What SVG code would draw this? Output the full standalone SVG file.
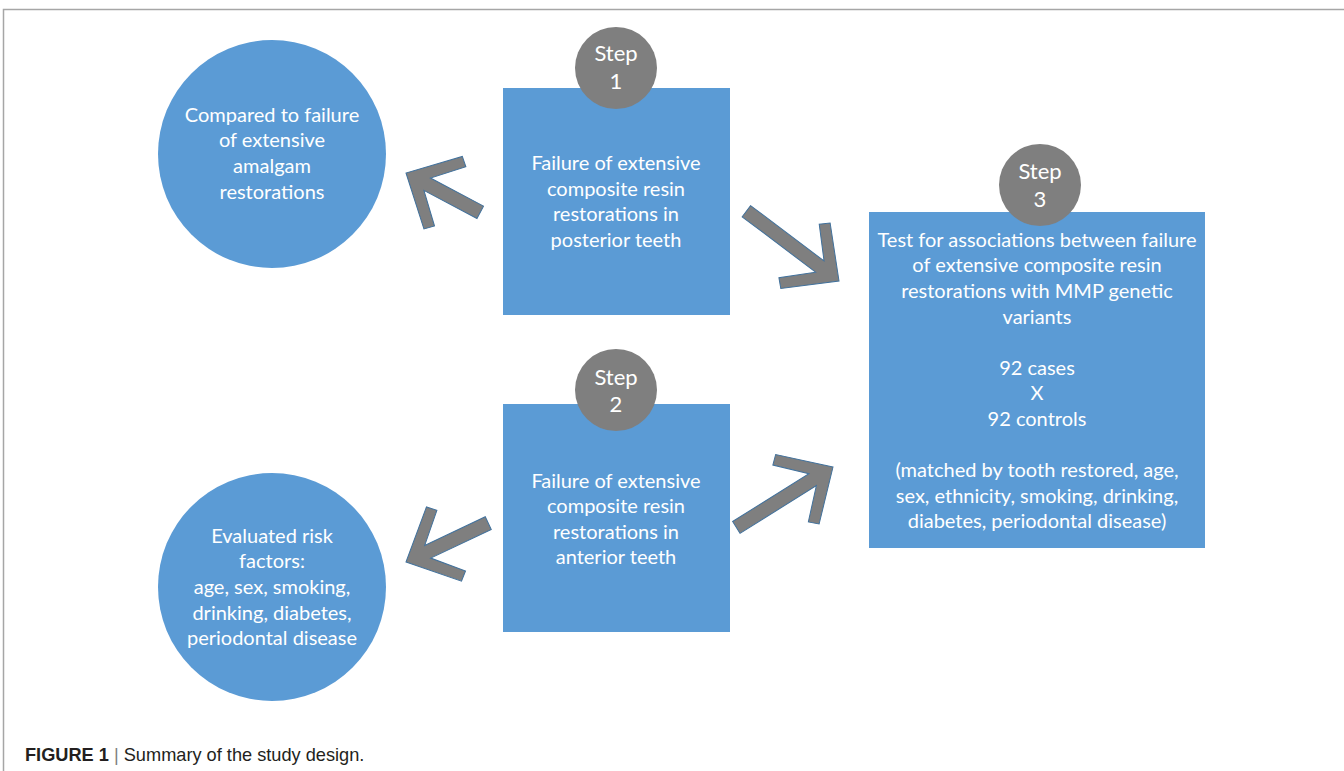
<svg xmlns="http://www.w3.org/2000/svg" width="1344" height="771" viewBox="0 0 1344 771">
<style>
.blue{fill:#5b9bd5}
.step{fill:#7f7f7f}
.arr{fill:#7f7f7f;stroke:#41719c;stroke-width:1;stroke-linejoin:miter}
.t{font-family:Lato,"Open Sans",sans-serif;font-size:20px;fill:#ffffff;text-anchor:middle}
.s{font-size:22px}
.cap{font-family:"Liberation Sans",Arial,sans-serif;font-size:18.2px;fill:#231f20}
</style>
<rect width="1344" height="771" fill="#ffffff"/>
<path d="M3.5,771 V9.5 H1344" fill="none" stroke="#a6a6a6" stroke-width="1.5"/>

<g id="circle1">
<circle class="blue" cx="272" cy="154" r="114"/>
<text class="t" x="272" y="122">Compared to failure</text>
<text class="t" x="272" y="147">of extensive</text>
<text class="t" x="272" y="173">amalgam</text>
<text class="t" x="272" y="199">restorations</text>
</g>

<g id="box1">
<rect class="blue" x="503" y="88" width="227" height="227"/>
<text class="t" x="616" y="170">Failure of extensive</text>
<text class="t" x="616" y="196">composite resin</text>
<text class="t" x="616" y="221">restorations in</text>
<text class="t" x="616" y="247">posterior teeth</text>
</g>
<g id="step1">
<circle class="step" cx="616" cy="68" r="41"/>
<text class="t s" x="616" y="61">Step</text>
<text class="t s" x="616" y="89">1</text>
</g>

<g id="box2">
<rect class="blue" x="503" y="404" width="227" height="228"/>
<text class="t" x="616" y="488">Failure of extensive</text>
<text class="t" x="616" y="513">composite resin</text>
<text class="t" x="616" y="539">restorations in</text>
<text class="t" x="616" y="564">anterior teeth</text>
</g>
<g id="step2">
<circle class="step" cx="616" cy="390" r="41"/>
<text class="t s" x="616" y="385">Step</text>
<text class="t s" x="616" y="412">2</text>
</g>

<g id="box3">
<rect class="blue" x="869" y="212" width="336" height="336"/>
<text class="t" x="1037" y="247">Test for associations between failure</text>
<text class="t" x="1037" y="272">of extensive composite resin</text>
<text class="t" x="1037" y="298">restorations with MMP genetic</text>
<text class="t" x="1037" y="324">variants</text>
<text class="t" x="1037" y="375">92 cases</text>
<text class="t" x="1037" y="400">X</text>
<text class="t" x="1037" y="426">92 controls</text>
<text class="t" x="1037" y="477">(matched by tooth restored, age,</text>
<text class="t" x="1037" y="503">sex, ethnicity, smoking, drinking,</text>
<text class="t" x="1037" y="528">diabetes, periodontal disease)</text>
</g>
<g id="step3">
<circle class="step" cx="1040" cy="185" r="41"/>
<text class="t s" x="1040" y="179">Step</text>
<text class="t s" x="1040" y="207">3</text>
</g>

<g id="circle2">
<circle class="blue" cx="272" cy="587" r="114"/>
<text class="t" x="272" y="543">Evaluated risk</text>
<text class="t" x="272" y="568">factors:</text>
<text class="t" x="272" y="594">age, sex, smoking,</text>
<text class="t" x="272" y="620">drinking, diabetes,</text>
<text class="t" x="272" y="645">periodontal disease</text>
</g>

<g id="connectors">
<polygon class="arr" transform="translate(406,173) rotate(207.9)" points="0,0 -42,-41 -50,-33.5 -24,-7 -84,-7 -84,7 -24,7 -50,33.5 -42,41"/>
<polygon class="arr" transform="translate(406,562) rotate(154.7)" points="0,0 -42,-41 -50,-33.5 -24,-7 -91,-7 -91,7 -24,7 -50,33.5 -42,41"/>
<polygon class="arr" transform="translate(833,467) rotate(-32)" points="0,0 -42,-41 -50,-33.5 -24,-7 -114,-7 -114,7 -24,7 -50,33.5 -42,41"/>
<polygon class="arr" transform="translate(839,281) rotate(37)" points="0,0 -42,-41 -50,-33.5 -24,-7 -116,-7 -116,7 -24,7 -50,33.5 -42,41"/>
</g>

<g id="caption">
<text class="cap" x="25" y="761"><tspan font-weight="bold">FIGURE 1</tspan> <tspan fill="#808080">|</tspan> Summary of the study design.</text>
</g>
</svg>
